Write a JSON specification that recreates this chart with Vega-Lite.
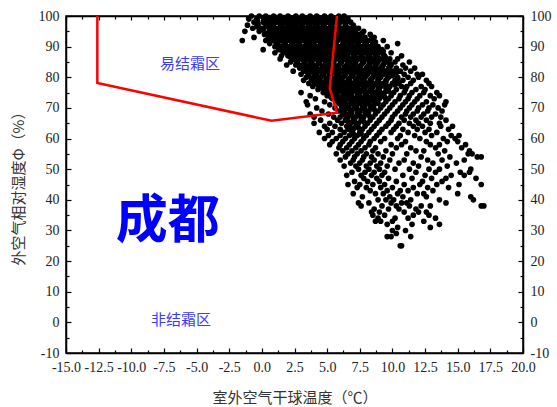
{
"$schema":"https://vega.github.io/schema/vega-lite/v6.json",
"autosize":"none",
"width":457,"height":337,
"padding":{"left":66,"top":16,"right":34,"bottom":54},
"background":"white",
"config":{"view":{"stroke":"black","strokeWidth":1.5},
"axis":{"labelFont":"Liberation Serif","labelFontSize":14,"labelColor":"#222","titleFont":"Noto Sans CJK SC","titleFontSize":15,"titleFontWeight":"normal","titleColor":"#333","domainColor":"black","domainWidth":1.5,"tickColor":"black","tickWidth":1.2,"grid":false}},
"datasets":{
"pts":[
{"t":-0.8,"h":100},{"t":-0.2,"h":100},{"t":0.3,"h":100},{"t":0.9,"h":100},{"t":1.4,"h":100},{"t":2.0,"h":100},{"t":2.6,"h":100},{"t":3.1,"h":100},{"t":3.7,"h":100},{"t":4.2,"h":100},{"t":4.8,"h":100},{"t":5.3,"h":100},{"t":5.9,"h":100},{"t":6.3,"h":100},
{"t":-1.0,"h":99},{"t":-0.4,"h":99},{"t":0.2,"h":99},{"t":0.7,"h":99},{"t":1.3,"h":99},{"t":1.8,"h":99},{"t":2.4,"h":99},{"t":2.9,"h":99},{"t":3.5,"h":99},{"t":4.0,"h":99},{"t":4.6,"h":99},{"t":5.2,"h":99},{"t":5.7,"h":99},{"t":6.1,"h":99},{"t":6.6,"h":99},
{"t":-0.6,"h":98},{"t":0.1,"h":98},{"t":0.5,"h":98},{"t":1.1,"h":98},{"t":1.6,"h":98},{"t":2.2,"h":98},{"t":2.8,"h":98},{"t":3.3,"h":98},{"t":3.9,"h":98},{"t":4.4,"h":98},{"t":5.0,"h":98},{"t":5.5,"h":98},{"t":6.0,"h":98},{"t":6.8,"h":98},
{"t":-1.1,"h":97},{"t":-0.3,"h":97},{"t":0.4,"h":97},{"t":0.8,"h":97},{"t":1.5,"h":97},{"t":2.1,"h":97},{"t":2.5,"h":97},{"t":3.0,"h":97},{"t":3.6,"h":97},{"t":4.1,"h":97},{"t":4.7,"h":97},{"t":5.3,"h":97},{"t":5.8,"h":97},{"t":6.4,"h":97},{"t":7.0,"h":97},
{"t":-0.7,"h":96},{"t":0.0,"h":96},{"t":0.6,"h":96},{"t":1.2,"h":96},{"t":1.7,"h":96},{"t":2.3,"h":96},{"t":2.9,"h":96},{"t":3.4,"h":96},{"t":4.0,"h":96},{"t":4.5,"h":96},{"t":5.1,"h":96},{"t":5.6,"h":96},{"t":6.2,"h":96},{"t":6.7,"h":96},{"t":7.4,"h":96},
{"t":-1.3,"h":95},{"t":-0.2,"h":95},{"t":0.9,"h":95},{"t":1.4,"h":95},{"t":2.0,"h":95},{"t":2.6,"h":95},{"t":3.2,"h":95},{"t":3.7,"h":95},{"t":4.3,"h":95},{"t":4.8,"h":95},{"t":5.4,"h":95},{"t":5.9,"h":95},{"t":6.5,"h":95},{"t":7.1,"h":95},{"t":7.8,"h":95},
{"t":0.2,"h":94},{"t":0.7,"h":94},{"t":1.3,"h":94},{"t":1.9,"h":94},{"t":2.4,"h":94},{"t":3.0,"h":94},{"t":3.5,"h":94},{"t":4.1,"h":94},{"t":4.6,"h":94},{"t":5.2,"h":94},{"t":5.7,"h":94},{"t":6.3,"h":94},{"t":6.9,"h":94},{"t":7.5,"h":94},{"t":8.3,"h":94},
{"t":-0.6,"h":93},{"t":0.5,"h":93},{"t":1.0,"h":93},{"t":1.6,"h":93},{"t":2.2,"h":93},{"t":2.7,"h":93},{"t":3.3,"h":93},{"t":3.8,"h":93},{"t":4.4,"h":93},{"t":4.9,"h":93},{"t":5.5,"h":93},{"t":6.1,"h":93},{"t":6.6,"h":93},{"t":7.2,"h":93},{"t":7.9,"h":93},{"t":8.6,"h":93},
{"t":-1.5,"h":92},{"t":0.3,"h":92},{"t":0.8,"h":92},{"t":1.4,"h":92},{"t":2.0,"h":92},{"t":2.5,"h":92},{"t":3.1,"h":92},{"t":3.6,"h":92},{"t":4.2,"h":92},{"t":4.7,"h":92},{"t":5.3,"h":92},{"t":5.8,"h":92},{"t":6.4,"h":92},{"t":7.0,"h":92},{"t":7.6,"h":92},{"t":8.2,"h":92},{"t":9.3,"h":92},
{"t":0.6,"h":91},{"t":1.1,"h":91},{"t":1.7,"h":91},{"t":2.3,"h":91},{"t":2.8,"h":91},{"t":3.4,"h":91},{"t":3.9,"h":91},{"t":4.5,"h":91},{"t":5.0,"h":91},{"t":5.6,"h":91},{"t":6.2,"h":91},{"t":6.7,"h":91},{"t":7.3,"h":91},{"t":7.9,"h":91},{"t":8.5,"h":91},{"t":10.4,"h":91},
{"t":1.0,"h":90},{"t":1.5,"h":90},{"t":2.1,"h":90},{"t":2.6,"h":90},{"t":3.2,"h":90},{"t":3.7,"h":90},{"t":4.3,"h":90},{"t":4.9,"h":90},{"t":5.4,"h":90},{"t":6.0,"h":90},{"t":6.5,"h":90},{"t":7.1,"h":90},{"t":7.7,"h":90},{"t":8.3,"h":90},{"t":8.9,"h":90},{"t":9.6,"h":90},
{"t":0.1,"h":89},{"t":1.3,"h":89},{"t":1.9,"h":89},{"t":2.4,"h":89},{"t":3.0,"h":89},{"t":3.5,"h":89},{"t":4.1,"h":89},{"t":4.6,"h":89},{"t":5.2,"h":89},{"t":5.8,"h":89},{"t":6.3,"h":89},{"t":6.9,"h":89},{"t":7.5,"h":89},{"t":8.0,"h":89},{"t":8.6,"h":89},{"t":9.2,"h":89},
{"t":1.0,"h":88},{"t":1.7,"h":88},{"t":2.2,"h":88},{"t":2.8,"h":88},{"t":3.3,"h":88},{"t":3.9,"h":88},{"t":4.4,"h":88},{"t":5.0,"h":88},{"t":5.6,"h":88},{"t":6.1,"h":88},{"t":6.7,"h":88},{"t":7.3,"h":88},{"t":7.8,"h":88},{"t":8.4,"h":88},{"t":9.0,"h":88},{"t":9.9,"h":88},
{"t":1.5,"h":87},{"t":2.0,"h":87},{"t":2.6,"h":87},{"t":3.1,"h":87},{"t":3.7,"h":87},{"t":4.3,"h":87},{"t":4.8,"h":87},{"t":5.4,"h":87},{"t":5.9,"h":87},{"t":6.5,"h":87},{"t":7.1,"h":87},{"t":7.6,"h":87},{"t":8.2,"h":87},{"t":8.8,"h":87},{"t":9.4,"h":87},{"t":10.7,"h":87},
{"t":1.4,"h":86},{"t":2.4,"h":86},{"t":2.9,"h":86},{"t":3.5,"h":86},{"t":4.0,"h":86},{"t":4.6,"h":86},{"t":5.2,"h":86},{"t":5.7,"h":86},{"t":6.3,"h":86},{"t":6.9,"h":86},{"t":7.4,"h":86},{"t":8.0,"h":86},{"t":8.6,"h":86},{"t":9.1,"h":86},{"t":9.8,"h":86},{"t":10.4,"h":86},
{"t":2.2,"h":85},{"t":2.7,"h":85},{"t":3.3,"h":85},{"t":3.8,"h":85},{"t":4.4,"h":85},{"t":5.0,"h":85},{"t":5.5,"h":85},{"t":6.1,"h":85},{"t":6.7,"h":85},{"t":7.2,"h":85},{"t":7.8,"h":85},{"t":8.4,"h":85},{"t":8.9,"h":85},{"t":9.5,"h":85},{"t":10.2,"h":85},{"t":11.3,"h":85},
{"t":1.9,"h":84},{"t":2.6,"h":84},{"t":3.1,"h":84},{"t":3.7,"h":84},{"t":4.2,"h":84},{"t":4.8,"h":84},{"t":5.3,"h":84},{"t":5.9,"h":84},{"t":6.5,"h":84},{"t":7.0,"h":84},{"t":7.6,"h":84},{"t":8.2,"h":84},{"t":8.7,"h":84},{"t":9.3,"h":84},{"t":9.9,"h":84},{"t":10.8,"h":84},
{"t":2.9,"h":83},{"t":3.4,"h":83},{"t":4.0,"h":83},{"t":4.6,"h":83},{"t":5.1,"h":83},{"t":5.7,"h":83},{"t":6.3,"h":83},{"t":6.8,"h":83},{"t":7.4,"h":83},{"t":8.0,"h":83},{"t":8.5,"h":83},{"t":9.1,"h":83},{"t":9.7,"h":83},{"t":10.3,"h":83},{"t":11.0,"h":83},{"t":11.7,"h":83},
{"t":2.4,"h":82},{"t":3.2,"h":82},{"t":3.8,"h":82},{"t":4.4,"h":82},{"t":4.9,"h":82},{"t":5.5,"h":82},{"t":6.1,"h":82},{"t":6.6,"h":82},{"t":7.2,"h":82},{"t":7.8,"h":82},{"t":8.3,"h":82},{"t":8.9,"h":82},{"t":9.5,"h":82},{"t":10.1,"h":82},{"t":10.6,"h":82},{"t":11.4,"h":82},
{"t":3.0,"h":81},{"t":3.6,"h":81},{"t":4.2,"h":81},{"t":4.7,"h":81},{"t":5.3,"h":81},{"t":5.9,"h":81},{"t":6.4,"h":81},{"t":7.0,"h":81},{"t":7.6,"h":81},{"t":8.1,"h":81},{"t":8.7,"h":81},{"t":9.3,"h":81},{"t":9.9,"h":81},{"t":10.9,"h":81},{"t":11.9,"h":81},{"t":12.3,"h":81},
{"t":3.4,"h":80},{"t":4.0,"h":80},{"t":4.5,"h":80},{"t":5.1,"h":80},{"t":5.7,"h":80},{"t":6.2,"h":80},{"t":6.8,"h":80},{"t":7.4,"h":80},{"t":7.9,"h":80},{"t":8.5,"h":80},{"t":9.1,"h":80},{"t":9.7,"h":80},{"t":10.4,"h":80},{"t":11.2,"h":80},{"t":12.0,"h":80},
{"t":3.2,"h":79},{"t":3.8,"h":79},{"t":4.3,"h":79},{"t":4.9,"h":79},{"t":5.5,"h":79},{"t":6.0,"h":79},{"t":6.6,"h":79},{"t":7.2,"h":79},{"t":7.7,"h":79},{"t":8.3,"h":79},{"t":8.9,"h":79},{"t":9.5,"h":79},{"t":10.2,"h":79},{"t":10.8,"h":79},{"t":11.6,"h":79},{"t":12.6,"h":79},
{"t":3.6,"h":78},{"t":4.1,"h":78},{"t":4.7,"h":78},{"t":5.3,"h":78},{"t":5.8,"h":78},{"t":6.4,"h":78},{"t":7.0,"h":78},{"t":7.5,"h":78},{"t":8.1,"h":78},{"t":8.7,"h":78},{"t":9.3,"h":78},{"t":10.0,"h":78},{"t":10.5,"h":78},{"t":11.4,"h":78},{"t":12.8,"h":78},
{"t":3.9,"h":77},{"t":4.5,"h":77},{"t":5.1,"h":77},{"t":5.6,"h":77},{"t":6.2,"h":77},{"t":6.8,"h":77},{"t":7.3,"h":77},{"t":7.9,"h":77},{"t":8.5,"h":77},{"t":9.1,"h":77},{"t":9.8,"h":77},{"t":10.7,"h":77},{"t":11.1,"h":77},{"t":12.2,"h":77},{"t":13.0,"h":77},
{"t":4.3,"h":76},{"t":4.9,"h":76},{"t":5.4,"h":76},{"t":6.0,"h":76},{"t":6.6,"h":76},{"t":7.1,"h":76},{"t":7.7,"h":76},{"t":8.3,"h":76},{"t":8.9,"h":76},{"t":9.6,"h":76},{"t":10.3,"h":76},{"t":11.0,"h":76},{"t":11.8,"h":76},{"t":12.5,"h":76},
{"t":3.0,"h":75},{"t":4.7,"h":75},{"t":5.2,"h":75},{"t":5.8,"h":75},{"t":6.4,"h":75},{"t":6.9,"h":75},{"t":7.5,"h":75},{"t":8.1,"h":75},{"t":8.7,"h":75},{"t":9.4,"h":75},{"t":10.1,"h":75},{"t":10.9,"h":75},{"t":11.5,"h":75},{"t":12.4,"h":75},{"t":13.4,"h":75},
{"t":3.7,"h":74},{"t":5.0,"h":74},{"t":5.6,"h":74},{"t":6.2,"h":74},{"t":6.7,"h":74},{"t":7.3,"h":74},{"t":7.9,"h":74},{"t":8.5,"h":74},{"t":9.2,"h":74},{"t":9.9,"h":74},{"t":10.6,"h":74},{"t":11.3,"h":74},{"t":12.1,"h":74},{"t":12.9,"h":74},{"t":13.6,"h":74},
{"t":4.1,"h":73},{"t":5.4,"h":73},{"t":6.0,"h":73},{"t":6.5,"h":73},{"t":7.1,"h":73},{"t":7.7,"h":73},{"t":8.3,"h":73},{"t":9.0,"h":73},{"t":9.7,"h":73},{"t":10.5,"h":73},{"t":11.2,"h":73},{"t":11.9,"h":73},{"t":13.2,"h":73},
{"t":3.4,"h":72},{"t":4.8,"h":72},{"t":5.8,"h":72},{"t":6.3,"h":72},{"t":6.9,"h":72},{"t":7.5,"h":72},{"t":8.1,"h":72},{"t":8.8,"h":72},{"t":9.5,"h":72},{"t":10.2,"h":72},{"t":11.0,"h":72},{"t":11.7,"h":72},{"t":12.6,"h":72},{"t":14.1,"h":72},
{"t":3.5,"h":71},{"t":5.2,"h":71},{"t":6.1,"h":71},{"t":6.7,"h":71},{"t":7.3,"h":71},{"t":7.9,"h":71},{"t":8.6,"h":71},{"t":9.3,"h":71},{"t":10.0,"h":71},{"t":10.8,"h":71},{"t":11.5,"h":71},{"t":12.3,"h":71},{"t":13.1,"h":71},{"t":14.0,"h":71},
{"t":4.2,"h":70},{"t":5.6,"h":70},{"t":6.5,"h":70},{"t":7.1,"h":70},{"t":7.7,"h":70},{"t":8.4,"h":70},{"t":9.1,"h":70},{"t":9.8,"h":70},{"t":10.6,"h":70},{"t":11.3,"h":70},{"t":12.0,"h":70},{"t":12.8,"h":70},{"t":13.5,"h":70},
{"t":4.6,"h":69},{"t":5.9,"h":69},{"t":6.3,"h":69},{"t":6.9,"h":69},{"t":7.5,"h":69},{"t":8.2,"h":69},{"t":8.9,"h":69},{"t":9.6,"h":69},{"t":10.4,"h":69},{"t":11.1,"h":69},{"t":11.9,"h":69},{"t":12.7,"h":69},{"t":13.8,"h":69},
{"t":3.7,"h":68},{"t":5.1,"h":68},{"t":6.2,"h":68},{"t":6.7,"h":68},{"t":7.3,"h":68},{"t":8.0,"h":68},{"t":8.7,"h":68},{"t":9.4,"h":68},{"t":10.2,"h":68},{"t":11.0,"h":68},{"t":11.6,"h":68},{"t":12.4,"h":68},{"t":13.3,"h":68},
{"t":4.0,"h":67},{"t":5.5,"h":67},{"t":6.0,"h":67},{"t":6.6,"h":67},{"t":7.2,"h":67},{"t":7.8,"h":67},{"t":8.5,"h":67},{"t":9.2,"h":67},{"t":10.0,"h":67},{"t":10.7,"h":67},{"t":11.4,"h":67},{"t":12.2,"h":67},{"t":13.0,"h":67},{"t":13.7,"h":67},
{"t":4.5,"h":66},{"t":5.8,"h":66},{"t":6.4,"h":66},{"t":7.0,"h":66},{"t":7.6,"h":66},{"t":8.3,"h":66},{"t":9.0,"h":66},{"t":9.9,"h":66},{"t":10.9,"h":66},{"t":11.8,"h":66},{"t":12.6,"h":66},{"t":14.1,"h":66},
{"t":4.0,"h":65},{"t":5.2,"h":65},{"t":6.1,"h":65},{"t":6.8,"h":65},{"t":7.4,"h":65},{"t":8.1,"h":65},{"t":8.8,"h":65},{"t":9.7,"h":65},{"t":10.5,"h":65},{"t":11.3,"h":65},{"t":12.0,"h":65},{"t":12.9,"h":65},{"t":13.6,"h":65},
{"t":4.8,"h":64},{"t":5.6,"h":64},{"t":6.5,"h":64},{"t":7.2,"h":64},{"t":7.9,"h":64},{"t":8.6,"h":64},{"t":9.5,"h":64},{"t":10.3,"h":64},{"t":11.6,"h":64},{"t":12.3,"h":64},{"t":13.7,"h":64},{"t":14.6,"h":64},
{"t":5.0,"h":63},{"t":6.0,"h":63},{"t":6.6,"h":63},{"t":7.0,"h":63},{"t":7.7,"h":63},{"t":8.4,"h":63},{"t":9.2,"h":63},{"t":10.1,"h":63},{"t":10.8,"h":63},{"t":11.9,"h":63},{"t":12.8,"h":63},{"t":14.3,"h":63},
{"t":4.4,"h":62},{"t":5.4,"h":62},{"t":6.3,"h":62},{"t":6.9,"h":62},{"t":7.5,"h":62},{"t":8.2,"h":62},{"t":9.0,"h":62},{"t":9.9,"h":62},{"t":11.2,"h":62},{"t":12.5,"h":62},{"t":13.4,"h":62},
{"t":5.1,"h":61},{"t":6.0,"h":61},{"t":6.7,"h":61},{"t":7.3,"h":61},{"t":8.0,"h":61},{"t":8.8,"h":61},{"t":10.6,"h":61},{"t":11.7,"h":61},{"t":13.0,"h":61},{"t":14.5,"h":61},{"t":15.1,"h":61},
{"t":4.8,"h":60},{"t":5.7,"h":60},{"t":6.4,"h":60},{"t":7.1,"h":60},{"t":7.8,"h":60},{"t":8.6,"h":60},{"t":9.4,"h":60},{"t":10.4,"h":60},{"t":12.1,"h":60},{"t":13.9,"h":60},{"t":14.8,"h":60},
{"t":5.4,"h":59},{"t":6.2,"h":59},{"t":6.9,"h":59},{"t":7.6,"h":59},{"t":8.3,"h":59},{"t":9.1,"h":59},{"t":11.0,"h":59},{"t":12.6,"h":59},{"t":14.2,"h":59},{"t":15.0,"h":59},
{"t":5.2,"h":58},{"t":6.0,"h":58},{"t":6.7,"h":58},{"t":7.4,"h":58},{"t":8.2,"h":58},{"t":9.9,"h":58},{"t":10.7,"h":58},{"t":12.9,"h":58},{"t":13.6,"h":58},{"t":15.6,"h":58},
{"t":5.9,"h":57},{"t":6.5,"h":57},{"t":7.2,"h":57},{"t":7.9,"h":57},{"t":8.7,"h":57},{"t":10.3,"h":57},{"t":11.4,"h":57},{"t":13.3,"h":57},{"t":15.3,"h":57},
{"t":6.2,"h":56},{"t":6.9,"h":56},{"t":7.6,"h":56},{"t":8.5,"h":56},{"t":9.5,"h":56},{"t":11.8,"h":56},{"t":12.4,"h":56},{"t":14.0,"h":56},{"t":15.9,"h":56},
{"t":5.7,"h":55},{"t":6.6,"h":55},{"t":7.3,"h":55},{"t":8.0,"h":55},{"t":8.9,"h":55},{"t":10.0,"h":55},{"t":11.1,"h":55},{"t":13.5,"h":55},{"t":15.8,"h":55},{"t":16.1,"h":55},
{"t":6.4,"h":54},{"t":7.1,"h":54},{"t":7.8,"h":54},{"t":8.4,"h":54},{"t":9.3,"h":54},{"t":12.2,"h":54},{"t":14.4,"h":54},{"t":16.5,"h":54},{"t":16.8,"h":54},
{"t":6.0,"h":53},{"t":7.0,"h":53},{"t":7.7,"h":53},{"t":8.6,"h":53},{"t":9.8,"h":53},{"t":10.9,"h":53},{"t":12.7,"h":53},{"t":13.8,"h":53},{"t":15.5,"h":53},
{"t":6.8,"h":52},{"t":7.5,"h":52},{"t":8.3,"h":52},{"t":9.1,"h":52},{"t":10.5,"h":52},{"t":11.6,"h":52},{"t":13.1,"h":52},{"t":14.9,"h":52},
{"t":6.3,"h":51},{"t":7.2,"h":51},{"t":8.0,"h":51},{"t":8.8,"h":51},{"t":9.6,"h":51},{"t":12.0,"h":51},{"t":14.2,"h":51},
{"t":7.4,"h":50},{"t":8.2,"h":50},{"t":9.0,"h":50},{"t":10.2,"h":50},{"t":11.3,"h":50},{"t":12.8,"h":50},{"t":13.6,"h":50},{"t":16.0,"h":50},
{"t":6.9,"h":49},{"t":7.9,"h":49},{"t":8.6,"h":49},{"t":9.4,"h":49},{"t":11.8,"h":49},{"t":13.3,"h":49},{"t":15.2,"h":49},{"t":15.9,"h":49},
{"t":6.5,"h":48},{"t":7.6,"h":48},{"t":8.4,"h":48},{"t":9.2,"h":48},{"t":10.8,"h":48},{"t":12.5,"h":48},{"t":14.5,"h":48},{"t":15.5,"h":48},
{"t":7.8,"h":47},{"t":8.8,"h":47},{"t":9.7,"h":47},{"t":11.5,"h":47},{"t":13.0,"h":47},{"t":14.1,"h":47},{"t":16.4,"h":47},
{"t":7.1,"h":46},{"t":8.1,"h":46},{"t":9.0,"h":46},{"t":10.3,"h":46},{"t":12.3,"h":46},{"t":13.8,"h":46},
{"t":6.6,"h":45},{"t":7.5,"h":45},{"t":8.5,"h":45},{"t":9.4,"h":45},{"t":10.9,"h":45},{"t":12.1,"h":45},{"t":13.4,"h":45},{"t":15.1,"h":45},{"t":16.8,"h":45},
{"t":7.3,"h":44},{"t":8.0,"h":44},{"t":9.1,"h":44},{"t":10.0,"h":44},{"t":11.6,"h":44},{"t":12.7,"h":44},{"t":14.3,"h":44},
{"t":8.3,"h":43},{"t":9.6,"h":43},{"t":10.6,"h":43},{"t":11.2,"h":43},{"t":13.1,"h":43},
{"t":7.0,"h":42},{"t":8.7,"h":42},{"t":9.3,"h":42},{"t":10.4,"h":42},{"t":11.9,"h":42},{"t":12.4,"h":42},{"t":15.0,"h":42},
{"t":7.7,"h":41},{"t":9.8,"h":41},{"t":10.8,"h":41},{"t":12.6,"h":41},{"t":16.0,"h":41},
{"t":8.9,"h":40},{"t":9.5,"h":40},{"t":10.1,"h":40},{"t":11.4,"h":40},{"t":13.6,"h":40},{"t":16.2,"h":40},
{"t":7.4,"h":39},{"t":8.2,"h":39},{"t":9.9,"h":39},{"t":10.7,"h":39},{"t":11.1,"h":39},{"t":14.1,"h":39},
{"t":7.6,"h":38},{"t":9.2,"h":38},{"t":10.3,"h":38},{"t":11.3,"h":38},{"t":12.2,"h":38},{"t":12.9,"h":38},{"t":16.8,"h":38},{"t":17.0,"h":38},
{"t":8.6,"h":37},{"t":9.7,"h":37},{"t":10.5,"h":37},{"t":11.8,"h":37},
{"t":8.4,"h":36},{"t":9.0,"h":36},{"t":10.9,"h":36},{"t":12.0,"h":36},{"t":12.6,"h":36},
{"t":8.5,"h":35},{"t":9.4,"h":35},{"t":11.6,"h":35},{"t":12.8,"h":35},
{"t":8.9,"h":34},{"t":10.2,"h":34},{"t":11.2,"h":34},{"t":13.3,"h":34},
{"t":8.7,"h":33},{"t":9.1,"h":33},{"t":10.0,"h":33},{"t":12.4,"h":33},
{"t":9.6,"h":32},{"t":11.5,"h":32},{"t":13.6,"h":32},
{"t":10.4,"h":31},{"t":12.9,"h":31},
{"t":10.0,"h":30},{"t":11.0,"h":30},
{"t":10.3,"h":29},
{"t":9.6,"h":28},{"t":9.9,"h":28},{"t":11.4,"h":28},
{"t":10.6,"h":25},{"t":10.7,"h":25},
{"t":0.1,"h":99.5},{"t":0.6,"h":99.5},{"t":1.1,"h":99.5},{"t":1.7,"h":99.5},{"t":2.2,"h":99.5},{"t":2.7,"h":99.5},{"t":3.3,"h":99.5},{"t":3.8,"h":99.5},{"t":4.4,"h":99.5},{"t":4.9,"h":99.5},{"t":5.5,"h":99.5},
{"t":-0.3,"h":97.5},{"t":0.3,"h":97.5},{"t":0.9,"h":97.5},{"t":1.4,"h":97.5},{"t":1.9,"h":97.5},{"t":2.5,"h":97.5},{"t":3.1,"h":97.5},{"t":3.6,"h":97.5},{"t":4.2,"h":97.5},{"t":4.7,"h":97.5},{"t":5.3,"h":97.5},{"t":5.8,"h":97.5},{"t":6.4,"h":97.5},
{"t":0.1,"h":95.5},{"t":0.7,"h":95.5},{"t":1.2,"h":95.5},{"t":1.8,"h":95.5},{"t":2.3,"h":95.5},{"t":2.9,"h":95.5},{"t":3.4,"h":95.5},{"t":4.0,"h":95.5},{"t":4.6,"h":95.5},{"t":5.1,"h":95.5},{"t":5.7,"h":95.5},{"t":6.2,"h":95.5},{"t":6.8,"h":95.5},
{"t":0.8,"h":93.5},{"t":1.3,"h":93.5},{"t":1.9,"h":93.5},{"t":2.5,"h":93.5},{"t":3.0,"h":93.5},{"t":3.6,"h":93.5},{"t":4.1,"h":93.5},{"t":4.7,"h":93.5},{"t":5.2,"h":93.5},{"t":5.8,"h":93.5},{"t":6.4,"h":93.5},{"t":6.9,"h":93.5},{"t":7.5,"h":93.5},
{"t":1.2,"h":91.5},{"t":1.8,"h":91.5},{"t":2.4,"h":91.5},{"t":2.9,"h":91.5},{"t":3.5,"h":91.5},{"t":4.0,"h":91.5},{"t":4.6,"h":91.5},{"t":5.2,"h":91.5},{"t":5.7,"h":91.5},{"t":6.3,"h":91.5},{"t":6.9,"h":91.5},{"t":7.4,"h":91.5},{"t":8.0,"h":91.5},{"t":8.7,"h":91.5},
{"t":1.6,"h":89.5},{"t":2.1,"h":89.5},{"t":2.7,"h":89.5},{"t":3.3,"h":89.5},{"t":3.8,"h":89.5},{"t":4.4,"h":89.5},{"t":4.9,"h":89.5},{"t":5.5,"h":89.5},{"t":6.1,"h":89.5},{"t":6.6,"h":89.5},{"t":7.2,"h":89.5},{"t":7.8,"h":89.5},{"t":8.3,"h":89.5},{"t":8.9,"h":89.5},
{"t":2.0,"h":87.5},{"t":2.5,"h":87.5},{"t":3.1,"h":87.5},{"t":3.6,"h":87.5},{"t":4.2,"h":87.5},{"t":4.7,"h":87.5},{"t":5.3,"h":87.5},{"t":5.9,"h":87.5},{"t":6.4,"h":87.5},{"t":7.0,"h":87.5},{"t":7.6,"h":87.5},{"t":8.1,"h":87.5},{"t":8.7,"h":87.5},{"t":9.3,"h":87.5},
{"t":2.6,"h":85.5},{"t":3.2,"h":85.5},{"t":3.7,"h":85.5},{"t":4.3,"h":85.5},{"t":4.8,"h":85.5},{"t":5.4,"h":85.5},{"t":6.0,"h":85.5},{"t":6.5,"h":85.5},{"t":7.1,"h":85.5},{"t":7.7,"h":85.5},{"t":8.2,"h":85.5},{"t":8.8,"h":85.5},{"t":9.4,"h":85.5},
{"t":3.0,"h":83.5},{"t":3.6,"h":83.5},{"t":4.1,"h":83.5},{"t":4.7,"h":83.5},{"t":5.3,"h":83.5},{"t":5.8,"h":83.5},{"t":6.4,"h":83.5},{"t":7.0,"h":83.5},{"t":7.5,"h":83.5},{"t":8.1,"h":83.5},{"t":8.7,"h":83.5},{"t":9.2,"h":83.5},{"t":9.8,"h":83.5},
{"t":3.5,"h":81.5},{"t":4.0,"h":81.5},{"t":4.6,"h":81.5},{"t":5.1,"h":81.5},{"t":5.7,"h":81.5},{"t":6.3,"h":81.5},{"t":6.8,"h":81.5},{"t":7.4,"h":81.5},{"t":7.9,"h":81.5},{"t":8.5,"h":81.5},{"t":9.1,"h":81.5},{"t":9.6,"h":81.5},{"t":10.3,"h":81.5},
{"t":3.8,"h":79.5},{"t":4.4,"h":79.5},{"t":5.0,"h":79.5},{"t":5.5,"h":79.5},{"t":6.1,"h":79.5},{"t":6.7,"h":79.5},{"t":7.2,"h":79.5},{"t":7.8,"h":79.5},{"t":8.4,"h":79.5},{"t":8.9,"h":79.5},{"t":9.6,"h":79.5},{"t":10.4,"h":79.5},
{"t":4.3,"h":77.5},{"t":4.9,"h":77.5},{"t":5.4,"h":77.5},{"t":6.0,"h":77.5},{"t":6.5,"h":77.5},{"t":7.1,"h":77.5},{"t":7.7,"h":77.5},{"t":8.2,"h":77.5},{"t":8.8,"h":77.5},{"t":9.5,"h":77.5},{"t":10.2,"h":77.5},
{"t":4.9,"h":75.5},{"t":5.5,"h":75.5},{"t":6.1,"h":75.5},{"t":6.6,"h":75.5},{"t":7.2,"h":75.5},{"t":7.8,"h":75.5},{"t":8.4,"h":75.5},{"t":9.0,"h":75.5},{"t":9.7,"h":75.5},
{"t":5.3,"h":73.5},{"t":5.8,"h":73.5},{"t":6.4,"h":73.5},{"t":6.9,"h":73.5},{"t":7.5,"h":73.5},{"t":8.1,"h":73.5},{"t":8.7,"h":73.5},{"t":9.4,"h":73.5},
{"t":5.9,"h":71.5},{"t":6.4,"h":71.5},{"t":7.0,"h":71.5},{"t":7.6,"h":71.5},{"t":8.2,"h":71.5},{"t":8.9,"h":71.5},
{"t":6.2,"h":69.5},{"t":6.7,"h":69.5},{"t":7.3,"h":69.5},{"t":7.9,"h":69.5},{"t":8.6,"h":69.5},
{"t":6.4,"h":67.5},{"t":6.9,"h":67.5},{"t":7.5,"h":67.5},{"t":8.2,"h":67.5},
{"t":6.6,"h":65.5},{"t":7.1,"h":65.5},{"t":7.8,"h":65.5},
{"t":6.8,"h":63.5},{"t":7.4,"h":63.5},
{"t":7.0,"h":61.5},{"t":7.6,"h":61.5},
{"t":-0.35,"h":98.5},{"t":0.35,"h":98.5},{"t":0.85,"h":98.5},{"t":1.35,"h":98.5},{"t":1.95,"h":98.5},{"t":2.45,"h":98.5},{"t":3.05,"h":98.5},{"t":3.55,"h":98.5},{"t":4.15,"h":98.5},{"t":4.65,"h":98.5},{"t":5.25,"h":98.5},{"t":5.8,"h":98.5},{"t":6.25,"h":98.5},
{"t":-0.4,"h":96.5},{"t":0.3,"h":96.5},{"t":0.9,"h":96.5},{"t":1.45,"h":96.5},{"t":2.0,"h":96.5},{"t":2.6,"h":96.5},{"t":3.15,"h":96.5},{"t":3.7,"h":96.5},{"t":4.25,"h":96.5},{"t":4.8,"h":96.5},{"t":5.35,"h":96.5},{"t":5.9,"h":96.5},{"t":6.45,"h":96.5},{"t":7.05,"h":96.5},
{"t":0.45,"h":94.5},{"t":1.0,"h":94.5},{"t":1.6,"h":94.5},{"t":2.15,"h":94.5},{"t":2.7,"h":94.5},{"t":3.25,"h":94.5},{"t":3.8,"h":94.5},{"t":4.35,"h":94.5},{"t":4.9,"h":94.5},{"t":5.45,"h":94.5},{"t":6.0,"h":94.5},{"t":6.6,"h":94.5},{"t":7.2,"h":94.5},{"t":7.7,"h":94.5},
{"t":0.6,"h":92.5},{"t":1.15,"h":92.5},{"t":1.7,"h":92.5},{"t":2.25,"h":92.5},{"t":2.8,"h":92.5},{"t":3.35,"h":92.5},{"t":3.9,"h":92.5},{"t":4.45,"h":92.5},{"t":5.0,"h":92.5},{"t":5.55,"h":92.5},{"t":6.1,"h":92.5},{"t":6.7,"h":92.5},{"t":7.3,"h":92.5},{"t":7.85,"h":92.5},{"t":8.4,"h":92.5},
{"t":1.25,"h":90.5},{"t":1.8,"h":90.5},{"t":2.35,"h":90.5},{"t":2.9,"h":90.5},{"t":3.45,"h":90.5},{"t":4.0,"h":90.5},{"t":4.6,"h":90.5},{"t":5.15,"h":90.5},{"t":5.7,"h":90.5},{"t":6.25,"h":90.5},{"t":6.8,"h":90.5},{"t":7.4,"h":90.5},{"t":8.0,"h":90.5},{"t":8.6,"h":90.5},
{"t":1.6,"h":88.5},{"t":2.15,"h":88.5},{"t":2.7,"h":88.5},{"t":3.25,"h":88.5},{"t":3.8,"h":88.5},{"t":4.35,"h":88.5},{"t":4.9,"h":88.5},{"t":5.45,"h":88.5},{"t":6.0,"h":88.5},{"t":6.55,"h":88.5},{"t":7.1,"h":88.5},{"t":7.65,"h":88.5},{"t":8.2,"h":88.5},{"t":8.75,"h":88.5},{"t":9.3,"h":88.5},
{"t":2.2,"h":86.5},{"t":2.75,"h":86.5},{"t":3.3,"h":86.5},{"t":3.85,"h":86.5},{"t":4.4,"h":86.5},{"t":4.95,"h":86.5},{"t":5.5,"h":86.5},{"t":6.05,"h":86.5},{"t":6.6,"h":86.5},{"t":7.15,"h":86.5},{"t":7.7,"h":86.5},{"t":8.3,"h":86.5},{"t":8.85,"h":86.5},{"t":9.45,"h":86.5},
{"t":2.75,"h":84.5},{"t":3.3,"h":84.5},{"t":3.85,"h":84.5},{"t":4.4,"h":84.5},{"t":4.95,"h":84.5},{"t":5.5,"h":84.5},{"t":6.05,"h":84.5},{"t":6.6,"h":84.5},{"t":7.15,"h":84.5},{"t":7.7,"h":84.5},{"t":8.25,"h":84.5},{"t":8.8,"h":84.5},{"t":9.35,"h":84.5},{"t":9.8,"h":84.5},
{"t":3.2,"h":82.5},{"t":3.75,"h":82.5},{"t":4.3,"h":82.5},{"t":4.85,"h":82.5},{"t":5.4,"h":82.5},{"t":5.95,"h":82.5},{"t":6.5,"h":82.5},{"t":7.05,"h":82.5},{"t":7.6,"h":82.5},{"t":8.15,"h":82.5},{"t":8.7,"h":82.5},{"t":9.25,"h":82.5},{"t":9.8,"h":82.5},
{"t":3.6,"h":80.5},{"t":4.15,"h":80.5},{"t":4.7,"h":80.5},{"t":5.25,"h":80.5},{"t":5.8,"h":80.5},{"t":6.35,"h":80.5},{"t":6.9,"h":80.5},{"t":7.45,"h":80.5},{"t":8.0,"h":80.5},{"t":8.55,"h":80.5},{"t":9.1,"h":80.5},{"t":9.65,"h":80.5},{"t":10.0,"h":80.5},
{"t":4.0,"h":78.5},{"t":4.55,"h":78.5},{"t":5.1,"h":78.5},{"t":5.65,"h":78.5},{"t":6.2,"h":78.5},{"t":6.75,"h":78.5},{"t":7.3,"h":78.5},{"t":7.85,"h":78.5},{"t":8.4,"h":78.5},{"t":8.95,"h":78.5},{"t":9.5,"h":78.5},
{"t":4.6,"h":76.5},{"t":5.15,"h":76.5},{"t":5.7,"h":76.5},{"t":6.25,"h":76.5},{"t":6.8,"h":76.5},{"t":7.35,"h":76.5},{"t":7.9,"h":76.5},{"t":8.45,"h":76.5},{"t":9.0,"h":76.5},{"t":9.5,"h":76.5},
{"t":5.2,"h":74.5},{"t":5.75,"h":74.5},{"t":6.3,"h":74.5},{"t":6.85,"h":74.5},{"t":7.4,"h":74.5},{"t":7.95,"h":74.5},{"t":8.5,"h":74.5},{"t":9.0,"h":74.5},
{"t":5.7,"h":72.5},{"t":6.25,"h":72.5},{"t":6.8,"h":72.5},{"t":7.35,"h":72.5},{"t":7.9,"h":72.5},{"t":8.5,"h":72.5},
{"t":6.1,"h":70.5},{"t":6.65,"h":70.5},{"t":7.2,"h":70.5},{"t":7.8,"h":70.5},{"t":8.3,"h":70.5},
{"t":6.3,"h":68.5},{"t":6.85,"h":68.5},{"t":7.4,"h":68.5},{"t":7.9,"h":68.5}
],
"poly":[
{"o":1,"t":-12.6,"h":100},{"o":2,"t":-12.6,"h":78.1},{"o":3,"t":0.75,"h":65.8},{"o":4,"t":5.75,"h":68.4},{"o":5,"t":5.2,"h":76.4},{"o":6,"t":5.75,"h":100}
],
"zones":[{"t":-5.5,"h":84.3,"label":"易结霜区"},{"t":-6.2,"h":0.8,"label":"非结霜区"}],
"city":[{"t":-7.2,"h":32.8,"label":"成都"}]
},
"layer":[
{"data":{"name":"pts"},"mark":{"type":"circle","size":32,"color":"black","opacity":1},
"encoding":{
"x":{"field":"t","type":"quantitative","scale":{"domain":[-15,20],"nice":false,"zero":false},
"axis":{"orient":"bottom","title":"室外空气干球温度（℃）","titlePadding":16,"values":[-15,-12.5,-10,-7.5,-5,-2.5,0,2.5,5,7.5,10,12.5,15,17.5,20],"tickSize":-5,"labelPadding":12,"labelExpr":"(datum.value<0?'-':'')+format(abs(datum.value),'.1f')","labelFlush":false,"labelOverlap":false}},
"y":{"field":"h","type":"quantitative","scale":{"domain":[-10,100],"nice":false,"zero":false},
"axis":{"orient":"left","title":"外空气相对湿度Φ（%）","titlePadding":12,"values":[-10,0,10,20,30,40,50,60,70,80,90,100],"tickSize":-5,"labelPadding":12,"labelExpr":"(datum.value<0?'-':'')+format(abs(datum.value),'d')","labelFlush":false,"labelOverlap":false}}}},
{"data":{"name":"poly"},"mark":{"type":"line","color":"#ff0000","strokeWidth":2.5},
"encoding":{
"x":{"field":"t","type":"quantitative","axis":{"orient":"bottom","title":null,"labels":false,"domain":false,"values":[-13.75,-11.25,-8.75,-6.25,-3.75,-1.25,1.25,3.75,6.25,8.75,11.25,13.75,16.25,18.75],"tickSize":-3}},
"y":{"field":"h","type":"quantitative","axis":{"orient":"left","title":null,"labels":false,"domain":false,"values":[-5,5,15,25,35,45,55,65,75,85,95],"tickSize":-3}},
"order":{"field":"o","type":"quantitative"}}},
{"data":{"name":"zones"},"mark":{"type":"text","font":"Noto Sans CJK SC","fontSize":15,"color":"#3a3aff"},
"encoding":{
"x":{"field":"t","type":"quantitative","axis":{"orient":"top","title":null,"labels":false,"values":[-13.75,-11.25,-8.75,-6.25,-3.75,-1.25,1.25,3.75,6.25,8.75,11.25,13.75,16.25,18.75],"tickSize":-3}},
"y":{"field":"h","type":"quantitative","axis":{"orient":"right","title":null,"values":[-10,0,10,20,30,40,50,60,70,80,90,100],"tickSize":-5,"labelPadding":12,"labelExpr":"(datum.value<0?'-':'')+format(abs(datum.value),'d')","labelFlush":false,"labelOverlap":false}},
"text":{"field":"label","type":"nominal"}}},
{"data":{"name":"city"},"mark":{"type":"text","font":"Noto Sans CJK SC","fontSize":52,"fontWeight":"bold","color":"#0000ff"},
"encoding":{
"x":{"field":"t","type":"quantitative","axis":{"orient":"top","title":null,"labels":false,"domain":false,"values":[-15,-12.5,-10,-7.5,-5,-2.5,0,2.5,5,7.5,10,12.5,15,17.5,20],"tickSize":-4}},
"y":{"field":"h","type":"quantitative","axis":{"orient":"right","title":null,"labels":false,"domain":false,"values":[-5,5,15,25,35,45,55,65,75,85,95],"tickSize":-3}},
"text":{"field":"label","type":"nominal"}}}
],
"resolve":{"axis":{"x":"independent","y":"independent"}}
}
